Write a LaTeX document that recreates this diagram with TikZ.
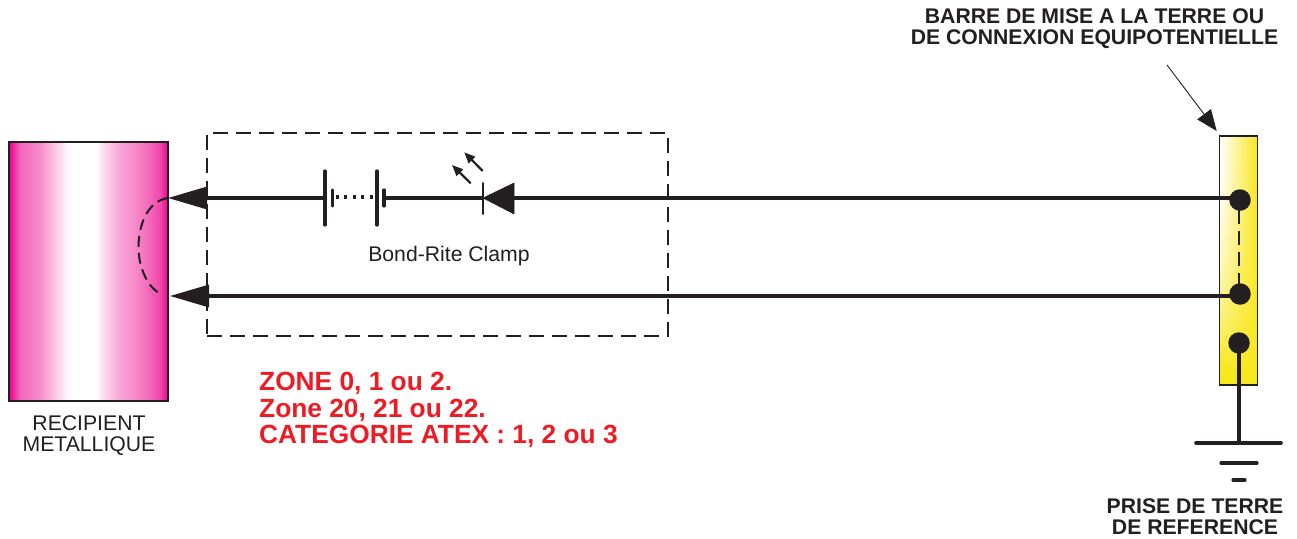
\documentclass[tikz,border=0pt]{standalone}
\usepackage{fontspec}
\setmainfont{Liberation Sans}
\usetikzlibrary{arrows.meta}
\definecolor{ink}{HTML}{231F20}
\definecolor{mag}{HTML}{EC008C}
\definecolor{barY}{HTML}{F9E71E}
\definecolor{alertred}{HTML}{ED1C24}
\pgfdeclarehorizontalshading{tankshade}{100bp}{color(0bp)=(mag);color(25bp)=(mag);color(28.5bp)=(mag!60!white);color(34.7bp)=(mag!45!white);color(38.8bp)=(mag!25!white);color(43.2bp)=(mag!4!white);color(44.8bp)=(white);color(52.4bp)=(white);color(54.6bp)=(mag!14!white);color(59.9bp)=(mag!35!white);color(66.2bp)=(mag!50!white);color(72.5bp)=(mag!72!white);color(75bp)=(mag);color(100bp)=(mag)}
\tikzset{
  x=1pt,y=-1pt,
  wire/.style={draw=ink,line width=3.2pt},
  thick wire/.style={draw=ink,line width=3.6pt,line cap=round},
  plate/.style={draw=ink,line width=3.2pt,line cap=round},
  headwire/.style={draw=ink,line width=3.2pt,-{Triangle[length=39pt,width=22pt,fill=ink]}},
  dashline/.style={draw=ink,line width=2pt,dash pattern=on 15pt off 8pt},
  terminal/.style={circle,fill=ink,minimum size=21.5pt,inner sep=0pt},
  lbl/.style={inner sep=0pt,align=center,text=ink,font=\fontsize{21.2}{21}\selectfont},
  blbl/.style={inner sep=0pt,align=center,text=ink,font=\fontsize{21.2}{21}\selectfont\bfseries},
  ledarrow/.style={draw=ink,line width=2.2pt,-{Triangle[length=11pt,width=9pt,fill=ink]}},
}
\begin{document}
\begin{tikzpicture}
\useasboundingbox (0,0) rectangle (1297,538);
% tank
\path[shading=tankshade] (9,142) rectangle (168,401);
\node[draw=ink,line width=2.2pt,minimum width=159pt,minimum height=259pt,inner sep=0pt] (tank) at (88.5,271.5) {};
% bar with banded gradient
\foreach \i in {0,...,49}{
  \pgfmathsetmacro{\yy}{136+\i*4.98}
  \pgfmathsetmacro{\ye}{\yy+5.2}
  \pgfmathsetmacro{\p}{min(100,\i*\i/22)}
  \pgfmathsetmacro{\q}{min(100,18+\i*\i/24)}
  \path[left color=barY!\p!white,middle color=barY!\q!white,right color=barY] (1219.5,\yy) rectangle (1257.5,\ye);
}
\node[draw=ink,line width=1.2pt,minimum width=38pt,minimum height=249pt,inner sep=0pt] (bar) at (1238.5,260.5) {};
% dashed enclosure
\node[dashline,minimum width=461pt,minimum height=203pt,inner sep=0pt] (clamp) at (437.5,234.5) {};
% named points
\coordinate (tipA) at (168,198);
\coordinate (tipB) at (170,296);
\coordinate (batA) at (325,198);
\coordinate (batB) at (332.5,198);
\coordinate (batC) at (377,198);
\coordinate (batD) at (384,198);
\coordinate (diode) at (483,198);
\coordinate (diodeB) at (514,198);
\node[terminal] (t1) at (1240,200) {};
\node[terminal] (t2) at (1240,294) {};
\node[terminal] (t3) at (1239,343) {};
\coordinate (w1) at (1240,198);
\coordinate (w2) at (1240,296);
\coordinate (g0) at (1239,442.7);
% wires
\draw[wire] (w1) -- (diodeB);
\draw[draw=ink,fill=ink,line join=round,line width=0.5pt] (diode) -- (514,183) -- (514,214) -- cycle;
\draw[plate,line width=2pt] (483,183) -- (483,214);
\draw[wire] (diode) -- (batD);
\draw[plate] (batD) ++(0,-8) -- ++(0,16);
\draw[plate] (batC) ++(0,-27) -- ++(0,54);
\draw[draw=ink,line width=3.4pt,dash pattern=on 3.2pt off 5.3pt] (batB) ++(3,-1) -- (375,197);
\draw[plate] (batB) ++(0,-8) -- ++(0,16);
\draw[plate] (batA) ++(0,-27) -- ++(0,54);
\draw[headwire] (batA) -- (tipA);
\draw[headwire] (w2) -- (tipB);
% dashed links
\draw[dashline,dash pattern=on 11pt off 6pt] (tipA) .. controls (147,201) and (138.5,226) .. (138.5,247) .. controls (138.5,268) and (148,288) .. (161,294);
\draw[dashline,dash pattern=on 14pt off 7pt] (1238.7,210) -- (1238.7,285);
% LED arrows
\coordinate (l1a) at (470.7,183.3); \coordinate (l1b) at (452,165);
\coordinate (l2a) at (482.7,171); \coordinate (l2b) at (464.3,152.3);
\draw[ledarrow] (l1a) -- (l1b);
\draw[ledarrow] (l2a) -- (l2b);
% ground
\draw[draw=ink,line width=3.2pt] (t3.center) -- (g0);
\draw[thick wire] (1196,442.7) -- (1281,442.7);
\draw[thick wire,line width=3.2pt] (1221,463) -- (1257,463);
\draw[thick wire,line width=3.2pt] (1233,480) -- (1245,480);
% pointer
\coordinate (pt0) at (1167,65);
\coordinate (pt1) at (1216.7,131);
\draw[draw=ink,line width=0.9pt,-{Triangle[length=21pt,width=17pt,fill=ink]}] (pt0) -- (pt1);
% labels
\node[blbl] (barlabel) at (1094.5,28.5) {BARRE DE MISE A LA TERRE OU\\DE CONNEXION EQUIPOTENTIELLE};
\node[lbl] (clamplabel) at (449,256) {Bond-Rite Clamp};
\node[lbl] (tanklabel) at (89,436) {RECIPIENT\\METALLIQUE};
\node[blbl] (earthlabel) at (1195,517) {PRISE DE TERRE\\DE REFERENCE};
\node[inner sep=0pt,align=left,text=alertred,anchor=west,font=\fontsize{26.3}{26.5}\selectfont\bfseries] (zones) at (259,410) {ZONE 0, 1 ou 2.\\Zone 20, 21 ou 22.\\CATEGORIE ATEX : 1, 2 ou 3};
\end{tikzpicture}
\end{document}
